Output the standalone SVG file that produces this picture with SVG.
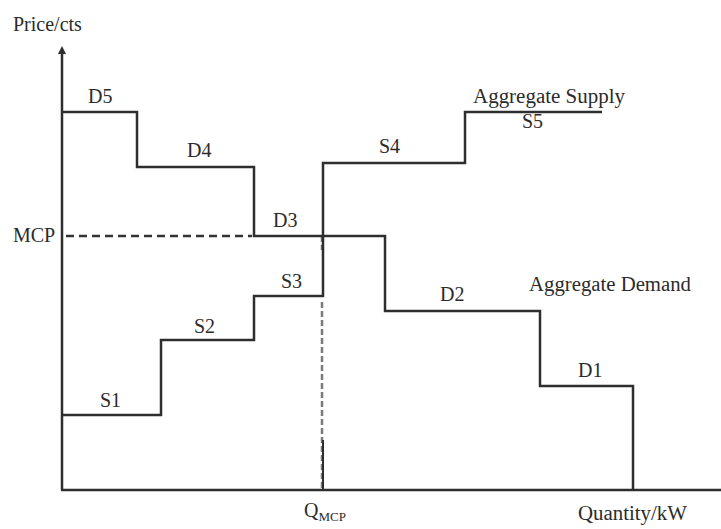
<svg xmlns="http://www.w3.org/2000/svg" width="721" height="529" viewBox="0 0 721 529">
  <style>
    .lbl { font-family: "Liberation Serif", "Times New Roman", serif; font-size: 20px; fill: #2b2b2b; }
    .sub { font-family: "Liberation Serif", "Times New Roman", serif; font-size: 13px; fill: #2b2b2b; }
    .axis { stroke: #2e2e2e; stroke-width: 2.5; fill: none; }
    .step { stroke: #2e2e2e; stroke-width: 2.5; fill: none; stroke-linejoin: miter; }
    .dash { stroke: #333; stroke-width: 2.5; stroke-dasharray: 8 5; fill: none; }
    .guide { stroke: #7a7a7a; stroke-width: 2.5; stroke-dasharray: 6 3; fill: none; }
  </style>
  <defs>
    <marker id="arrow" markerWidth="8" markerHeight="8" refX="4" refY="4" orient="auto" markerUnits="userSpaceOnUse">
      <path d="M0,0 L8,4 L0,8 Z" fill="#2e2e2e"/>
    </marker>
  </defs>
  <rect width="721" height="529" fill="#ffffff"/>

  <!-- axes -->
  <g id="axes">
    <line class="axis" x1="62" y1="490" x2="62" y2="50" marker-end="url(#arrow)"/>
    <line class="axis" x1="61" y1="490" x2="721" y2="490"/>
    <text class="lbl" x="13" y="31">Price/cts</text>
    <text class="lbl" x="578" y="520" textLength="109" lengthAdjust="spacingAndGlyphs">Quantity/kW</text>
  </g>

  <!-- market clearing price and quantity guides -->
  <g id="connectors">
    <line class="dash" x1="66" y1="236" x2="252" y2="236"/>
    <line class="guide" x1="322" y1="236" x2="322" y2="250"/>
    <line class="guide" x1="322" y1="302" x2="322" y2="490"/>
    <line stroke="#2e2e2e" stroke-width="2" x1="323" y1="440" x2="323" y2="490"/>
  </g>

  <g id="mcp">
    <text class="lbl" x="13" y="242">MCP</text>
  </g>
  <g id="qmcp">
    <text class="lbl" x="304" y="517">Q<tspan class="sub" dy="4">MCP</tspan></text>
  </g>

  <!-- aggregate demand step curve -->
  <g id="aggregate-demand">
    <polyline class="step" points="62,112 137,112 137,167 254,167 254,236 385,236 385,311 540,311 540,386 633,386 633,490"/>
    <text class="lbl" x="529" y="291" textLength="162" lengthAdjust="spacingAndGlyphs">Aggregate Demand</text>
    <text class="lbl" x="88" y="103">D5</text>
    <text class="lbl" x="187" y="157">D4</text>
    <text class="lbl" x="273" y="227">D3</text>
    <text class="lbl" x="440" y="301">D2</text>
    <text class="lbl" x="578" y="377">D1</text>
  </g>

  <!-- aggregate supply step curve -->
  <g id="aggregate-supply">
    <polyline class="step" points="62,415 161,415 161,340 254,340 254,296 323,296 323,163 465,163 465,112 602,112"/>
    <text class="lbl" x="473" y="103" textLength="152" lengthAdjust="spacingAndGlyphs">Aggregate Supply</text>
    <text class="lbl" x="100" y="407">S1</text>
    <text class="lbl" x="194" y="333">S2</text>
    <text class="lbl" x="281" y="288">S3</text>
    <text class="lbl" x="379" y="153">S4</text>
    <text class="lbl" x="522" y="128">S5</text>
  </g>
</svg>
